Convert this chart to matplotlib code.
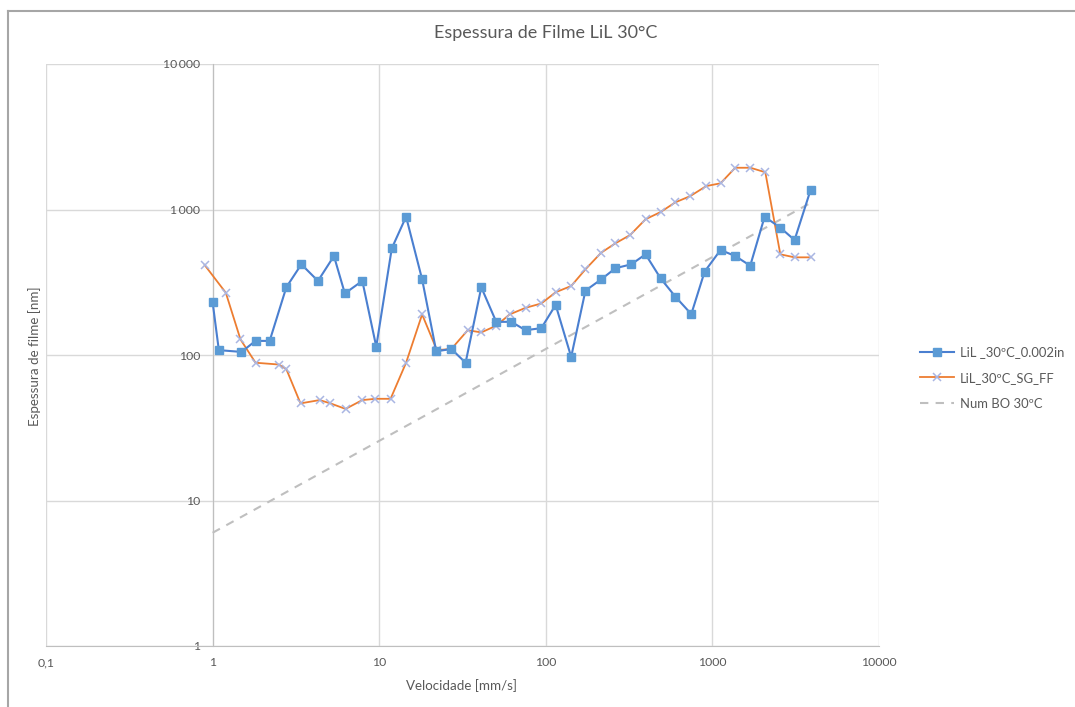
import matplotlib.pyplot as plt
from matplotlib.lines import Line2D

plt.rcParams['font.family'] = ['Lato', 'DejaVu Sans']

# LiL _30ºC_0.002in
vel_a = [1.0, 1.09, 1.49, 1.81, 2.2, 2.77, 3.41, 4.29, 5.35, 6.22, 7.92, 9.6,
         11.9, 14.5, 18.1, 22.0, 27.1, 33.0, 41.0, 50.4, 62.1, 75.6, 94.0,
         114.6, 142, 173, 215, 262, 326, 397, 489, 599, 747, 898, 1119, 1371,
         1687, 2058, 2557, 3113, 3884]
film_a = [231, 108, 105, 125, 125, 292, 420, 323, 479, 265, 323, 114,
          541, 892, 331, 106, 110, 88.5, 292, 169, 169, 148, 153,
          221, 97, 277, 331, 395, 420, 492, 336, 252, 191, 374, 527, 479,
          411, 892, 750, 617, 1361]

# LiL_30ºC_SG_FF
vel_b = [0.895, 1.2, 1.47, 1.81, 2.5, 2.77, 3.37, 4.39, 5.1, 6.28, 7.92, 9.5,
         11.7, 14.5, 18.1, 22.2, 27.1, 34.0, 41.0, 50.4, 60.6, 75.6, 94.0,
         114.6, 142, 173, 215, 262, 321, 397, 489, 599, 735, 919, 1119, 1371,
         1691, 2078, 2557, 3113, 3884]
film_b = [416, 268, 128, 88.5, 86, 80, 46.5, 49, 46.5, 42.6, 49, 50,
          50, 88.5, 190, 108, 110, 148, 143, 159, 190, 211, 226,
          270, 298, 388, 505, 586, 668, 857, 961, 1120, 1235, 1449, 1514, 1936,
          1936, 1803, 492, 469, 469]

# Num BO 30ºC
vel_num = [1.0, 3884]
film_num = [6.0, 1110]

x_ticks = [0.1, 1, 10, 100, 1000, 10000]
x_labels = ['0,1', '1', '10', '100', '1000', '10000']
y_ticks = [1, 10, 100, 1000, 10000]
y_labels = ['1', '10', '100', '1\u2009000', '10\u2009000']

blue_line = '#4A7FD0'
blue_mark = '#5B9BD5'
orange = '#ED7D31'
x_mark = '#A9B6E3'
grid_c = '#D9D9D9'
text_c = '#595959'

fig = plt.figure(figsize=(10.75, 7.07), dpi=100)
ax = fig.add_axes([46 / 1075, 1 - 646 / 707, (879 - 46) / 1075, (646 - 64) / 707])

ax.plot(vel_num, film_num, color='#BFBFBF', lw=1.5, ls=(0, (4, 3.5)), zorder=2)
ax.plot(vel_b, film_b, color=orange, lw=1.3, marker='x', ms=6, mew=1.1,
        mec=x_mark, zorder=3)
ax.plot(vel_a, film_a, color=blue_line, lw=1.5, marker='s', ms=5.2,
        mfc=blue_mark, mec=blue_mark, zorder=4)

ax.set_xscale('log')
ax.set_yscale('log')
ax.set_xlim(0.1, 10000)
ax.set_ylim(1, 10000)
ax.set_xticks(x_ticks)
ax.set_xticklabels(x_labels)
ax.set_yticks(y_ticks)
ax.set_yticklabels(y_labels)
ax.minorticks_off()
ax.tick_params(length=0, labelsize=8.8, colors=text_c)
ax.tick_params(axis='x', pad=8)
ax.tick_params(axis='y', pad=9)

ax.grid(True, color=grid_c, lw=1)
ax.set_axisbelow(True)
for s in ['top', 'right']:
    ax.spines[s].set_visible(False)
ax.spines['left'].set_position(('data', 1))
ax.spines['left'].set_color('#BFBFBF')
ax.spines['bottom'].set_color('#BFBFBF')
ax.spines['left'].set_zorder(1)

fig.text(462 / 1075, 1 - 686 / 707, 'Velocidade [mm/s]', ha='center', va='center',
         fontsize=9.6, color=text_c)
fig.text(35 / 1075, 1 - 356 / 707, 'Espessura de filme [nm]', rotation=90,
         ha='center', va='center', fontsize=9.6, color=text_c)
fig.text(546 / 1075, 1 - 33 / 707, 'Espessura de Filme LiL 30°C',
         ha='center', va='center', fontsize=13, color=text_c)

handles = [
    Line2D([], [], color=blue_line, lw=1.5, marker='s', ms=5.2, mfc=blue_mark, mec=blue_mark),
    Line2D([], [], color=orange, lw=1.3, marker='x', ms=6, mew=1.1, mec=x_mark),
    Line2D([], [], color='#BFBFBF', lw=1.5, ls=(0, (4, 3.5))),
]
names = ['LiL _30ºC_0.002in', 'LiL_30ºC_SG_FF', 'Num BO 30ºC']
fig.legend(handles, names, loc='center left', bbox_to_anchor=(908 / 1075, 1 - 378 / 707),
           frameon=False, fontsize=9.4, labelcolor=text_c, handlelength=2.6,
           labelspacing=1.05, handletextpad=0.5)

# chart border (top and left visible)
fig.add_artist(Line2D([8 / 1075, 1], [1 - 11 / 707, 1 - 11 / 707], color='#A6A6A6', lw=1.5))
fig.add_artist(Line2D([8 / 1075, 8 / 1075], [0, 1 - 11 / 707], color='#A6A6A6', lw=1.5))

fig.savefig('out.png', dpi=100)
